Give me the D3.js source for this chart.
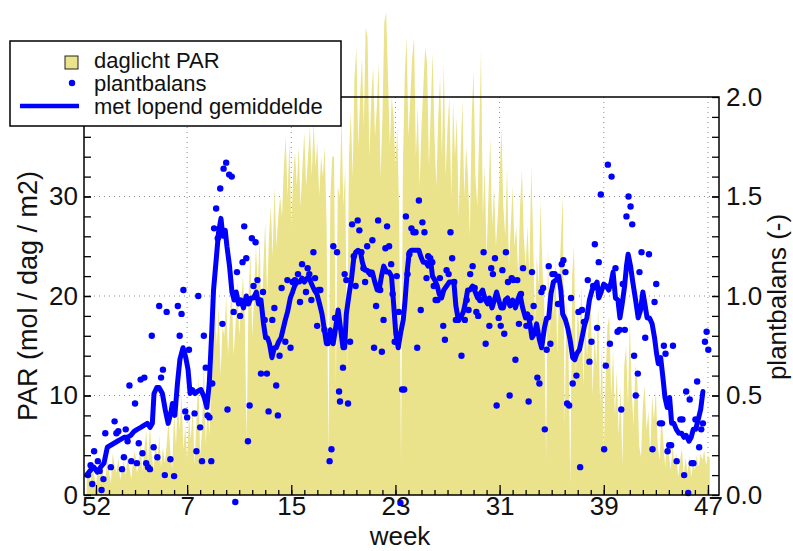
<!DOCTYPE html>
<html><head><meta charset="utf-8">
<script src="https://cdn.jsdelivr.net/npm/d3@7"></script>
<style>
body{margin:0;background:#fff}
svg{display:block}
text{font-family:"Liberation Sans",Arial,Helvetica,sans-serif;fill:#111}
</style>
</head><body>
<svg id="chart" width="793" height="551"></svg>
<script>
// ---------- data ----------
const weekTicks = [0, 7, 15, 23, 31, 39, 47];          // weeks after week 52
const weekLabels = ["52", "7", "15", "23", "31", "39", "47"];
const parTicks = [0, 10, 20, 30];
const balTicks = [0.0, 0.5, 1.0, 1.5, 2.0];
const legendLabels = ["daglicht PAR", "plantbalans", "met lopend gemiddelde"];
const axisTitles = {left: "PAR (mol / dag / m2)", right: "plantbalans (-)", bottom: "week"};

// daily PAR (mol/dag/m2), first value = day -5 relative to week 52
const parStartDay = -5;
const parDaily = [
  1.5,2.5,1.2,3.0,2.0,1.0,2.8,
  1.8,3.2,2.0,1.5,3.5,2.5,1.2,
  4.2,3.0,2.2,3.8,1.5,2.6,3.4,
  2.0,4.0,2.8,1.6,3.6,4.4,2.2,
  3.0,5.2,2.4,4.6,6.5,3.2,7.0,
  4.0,2.5,5.5,3.5,6.0,2.8,4.8,
  3.2,5.0,7.5,4.2,2.6,8.5,5.0,
  9.5,6.5,10.2,4.5,7.0,3.5,8.0,
  5.5,9.0,3.0,7.5,12.0,4.0,6.5,
  13.5,5.0,9.0,6.0,11.0,14.0,18.5,
  15.0,19.0,12.0,17.0,16.0,20.0,14.0,
  18.0,21.0,14.0,17.0,21.5,16.0,19.0,
  22.0,18.0,5.5,20.0,24.5,16.0,20.0,
  25.0,21.0,26.0,17.0,23.0,27.5,20.0,
  26.0,29.0,24.0,31.0,25.0,28.0,30.0,
  28.0,33.0,36.0,30.0,35.5,27.0,32.0,
  34.5,31.0,35.0,29.0,33.0,36.5,31.0,
  34.0,37.0,32.0,37.5,33.0,35.5,30.0,
  34.0,32.0,35.0,27.0,4.0,30.0,34.0,
  34.0,11.0,31.0,30.0,38.0,29.0,33.0,
  12.0,34.0,38.5,32.0,42.0,45.0,35.0,
  40.0,44.0,37.0,47.0,46.0,34.0,40.0,
  43.0,36.0,39.0,43.5,32.0,38.0,47.5,
  48.5,42.0,35.0,40.0,38.0,33.0,37.0,
  28.0,3.0,33.0,42.0,46.0,36.0,40.0,
  44.0,46.0,34.0,39.0,31.0,37.0,41.0,
  45.0,43.5,33.0,39.0,44.5,36.0,31.0,
  38.0,42.0,34.0,43.5,32.0,37.0,40.0,
  30.0,39.5,34.0,38.0,28.0,34.0,39.7,
  30.0,35.0,32.0,26.0,38.0,42.7,32.0,
  29.0,36.0,44.7,28.0,33.0,24.0,30.0,
  36.0,27.0,31.0,25.0,28.0,32.0,37.0,
  29.0,26.0,33.0,23.0,27.0,31.0,25.0,
  27.0,22.0,29.0,32.7,26.0,23.0,27.0,
  22.0,33.0,26.0,17.0,24.0,21.0,29.6,
  23.0,19.0,3.5,25.0,16.0,22.0,18.0,
  24.0,14.0,21.0,26.0,30.0,7.0,20.0,
  15.0,1.0,22.0,25.0,12.0,19.0,16.0,
  21.0,11.0,17.0,14.0,18.0,20.0,10.0,
  16.5,13.0,19.0,9.0,15.0,4.5,12.0,
  17.0,18.0,10.0,14.5,8.0,12.5,6.0,
  11.0,3.0,13.0,15.0,9.0,17.6,10.5,
  7.0,13.0,12.0,5.0,3.8,9.0,11.0,
  6.5,8.5,4.0,10.0,7.5,10.5,5.0,
  3.5,8.0,5.5,2.8,5.8,4.0,2.5,
  5.0,3.0,4.2,1.8,3.5,4.7,2.0,
  3.8,2.2,4.0,1.8,3.2,2.5,4.0,
  2.8,4.2,3.5,4.5,3.0,4.0,3.6
];

// plantbalans: [day relative to week 52, value (-)]
const plantbalans = [
  [-4.3,0.10],[-2.9,0.15],[-2.0,0.055],[-1.0,0.22],[1.0,0.17],[2.0,0.12],[3.0,0.025],[4.0,0.08],
  [5.0,0.31],[8.0,0.14],[10.0,0.37],[11.0,0.31],[12.0,0.32],[14.0,0.13],[15.0,0.19],[16.0,0.33],
  [17.0,0.27],[18.0,0.55],[19.0,0.17],[21.0,0.46],[22.0,0.16],[23.0,0.26],[24.0,0.58],[25.0,0.21],
  [26.0,0.59],[27.0,0.16],[28.0,0.14],[29.0,0.13],[30.0,0.80],[31.0,0.24],[33.0,0.19],[34.0,0.95],
  [35.0,0.59],[36.0,0.63],[37.0,0.10],[38.0,0.92],[40.0,0.18],[42.0,0.095],[44.0,0.95],[45.0,0.80],
  [46.0,0.91],[47.0,1.03],[48.0,0.42],[49.0,0.39],[50.0,0.73],[53.0,0.41],[54.0,0.22],[55.0,1.00],
  [56.0,0.34],[57.0,0.17],[58.0,0.80],[59.0,0.64],[60.0,0.40],[61.0,0.39],[62.0,0.17],[62.5,0.56],
  [63.5,1.34],[64.6,1.44],[65.5,1.29],[66.8,1.54],[68.0,0.86],[68.6,1.64],[70.0,1.67],[70.7,0.43],
  [71.6,1.61],[73.0,1.60],[74.0,0.92],[74.9,-0.035],[75.8,1.12],[77.5,0.90],[78.8,1.17],[79.7,1.35],
  [80.8,1.19],[81.7,0.27],[82.6,0.45],[83.8,1.29],[84.7,1.05],[85.8,1.27],[86.8,1.08],[88.7,0.61],
  [89.8,1.02],[90.7,0.88],[91.9,0.61],[92.8,0.42],[94.8,0.88],[95.9,0.94],[96.9,0.55],[97.8,0.40],
  [98.7,0.70],[99.8,1.04],[101.8,0.77],[102.9,1.08],[104.6,0.74],[105.7,1.07],[107.0,1.08],[108.6,1.11],
  [109.7,0.97],[110.8,1.16],[111.9,1.08],[112.9,1.02],[113.8,1.14],[114.7,1.11],[115.8,0.98],[116.9,1.22],
  [117.8,1.09],[118.9,0.85],[119.7,1.03],[120.6,1.03],[122.8,0.83],[125.6,0.17],[126.6,0.23],[127.6,1.25],
  [128.5,0.89],[129.6,1.22],[130.7,0.52],[131.2,0.47],[132.8,0.64],[133.7,1.11],[134.6,1.08],[135.5,0.46],
  [136.6,0.77],[137.7,1.36],[138.6,1.20],[139.6,1.05],[140.7,1.38],[141.6,1.33],[142.7,1.22],[143.8,1.14],
  [144.7,1.07],[145.8,1.25],[146.8,1.12],[147.7,1.11],[148.6,1.28],[149.5,0.74],[150.6,0.95],[151.7,1.38],
  [152.8,1.03],[153.7,0.72],[154.6,0.88],[155.6,1.24],[156.5,1.35],[157.6,1.25],[158.7,1.16],[159.5,1.01],
  [160.6,0.77],[161.7,1.10],[162.8,0.92],[163.7,-0.04],[164.6,0.53],[165.7,0.53],[166.6,1.40],[167.5,1.11],
  [168.5,1.21],[169.6,1.34],[170.7,1.32],[171.8,1.32],[172.7,0.74],[173.6,1.48],[174.6,0.93],[175.5,1.37],
  [176.6,1.32],[177.7,1.09],[178.6,1.20],[179.7,1.19],[180.8,1.17],[181.6,1.05],[182.6,0.98],[183.6,0.98],
  [184.9,1.09],[186.7,0.85],[187.6,0.78],[188.5,1.13],[189.6,1.11],[190.6,1.32],[191.5,1.19],[192.6,1.07],
  [193.5,0.88],[194.6,0.88],[196.5,0.70],[198.3,0.88],[199.3,0.98],[200.3,0.93],[201.2,1.11],[202.5,1.15],
  [203.6,1.04],[204.5,0.92],[205.5,0.90],[206.6,0.98],[208.4,1.22],[209.5,0.76],[210.6,0.98],[211.5,0.85],
  [212.5,1.14],[213.4,1.11],[214.5,1.19],[215.4,0.45],[216.5,0.89],[217.6,0.85],[218.5,1.13],[219.5,0.81],
  [220.4,1.22],[221.5,1.07],[222.4,0.50],[223.5,1.09],[224.4,1.08],[225.5,0.68],[226.5,1.08],[227.4,0.86],
  [228.5,1.01],[229.6,1.14],[231.4,0.85],[232.6,0.47],[233.5,0.89],[234.4,1.12],[235.3,0.95],[237.3,0.59],
  [238.4,0.56],[239.5,1.02],[240.4,1.04],[241.3,0.33],[242.3,0.73],[243.4,1.15],[244.3,0.76],[245.4,1.11],
  [246.5,1.11],[248.4,0.96],[250.4,1.16],[251.3,1.18],[252.4,1.12],[253.3,0.46],[254.4,0.45],[255.4,0.99],
  [256.3,0.56],[258.3,0.60],[259.4,0.92],[260.3,0.14],[261.3,0.93],[262.3,0.87],[264.4,1.08],[265.3,0.67],
  [266.4,0.77],[267.3,1.05],[268.2,1.26],[269.4,0.84],[270.3,1.17],[271.4,1.51],[273.2,0.23],[274.1,0.65],
  [275.2,1.66],[276.3,0.76],[277.2,1.60],[279.3,1.14],[280.4,0.82],[281.5,0.83],[282.4,0.43],[283.2,1.06],
  [284.3,0.83],[285.2,1.40],[286.3,1.50],[287.4,1.45],[288.3,1.36],[289.3,0.70],[290.2,0.50],[291.3,0.61],
  [292.2,1.12],[293.3,1.22],[295.3,0.79],[297.3,1.21],[299.2,0.23],[300.3,0.97],[301.2,1.06],[303.2,0.36],
  [304.3,0.36],[305.3,0.75],[306.2,0.71],[307.3,0.22],[308.2,0.25],[309.2,0.25],[310.2,0.75],[312.2,0.17],
  [314.2,0.38],[315.3,0.38],[316.2,0.10],[317.3,0.52],[318.4,0.01],[319.2,0.48],[320.3,0.16],[321.2,0.16],
  [322.3,0.38],[323.2,0.57],[324.3,0.24],[325.4,0.33],[326.3,0.36],[327.4,0.77],[328.3,0.82],[329.2,0.73]
];

// running mean of plantbalans: [day, value]
const lopendGemiddelde = [
  [-5.0,0.10],[-2.9,0.125],[-1.1,0.14],[0.7,0.115],[2.5,0.14],[4.3,0.16],[6.1,0.24],[7.9,0.25],
  [9.7,0.26],[11.5,0.27],[13.3,0.28],[15.1,0.29],[16.9,0.29],[18.7,0.30],[20.5,0.32],[22.2,0.33],
  [24.1,0.34],[25.8,0.35],[27.6,0.36],[29.1,0.34],[30.3,0.36],[31.2,0.51],[32.7,0.54],[33.9,0.54],
  [35.7,0.51],[37.2,0.43],[38.8,0.36],[40.2,0.41],[41.1,0.46],[42.4,0.40],[43.8,0.56],[45.1,0.68],
  [46.8,0.74],[48.3,0.69],[49.5,0.63],[50.6,0.51],[51.9,0.53],[53.2,0.51],[54.5,0.52],[56.4,0.53],
  [58.2,0.49],[59.6,0.44],[60.9,0.56],[62.1,0.79],[63.2,1.03],[64.6,1.18],[65.9,1.32],[67.2,1.39],
  [68.2,1.30],[69.5,1.33],[70.4,1.25],[71.8,1.15],[73.1,1.02],[74.3,0.98],[75.4,1.02],[76.6,0.96],
  [77.9,0.98],[79.3,0.94],[80.8,1.00],[82.0,0.96],[83.3,0.99],[84.7,0.99],[86.2,1.02],[87.4,0.96],
  [88.7,0.98],[90.1,0.86],[91.2,0.79],[92.2,0.79],[93.3,0.76],[94.6,0.69],[95.9,0.74],[96.9,0.74],
  [98.2,0.77],[99.5,0.79],[100.5,0.83],[101.8,0.88],[103.0,0.92],[104.5,0.99],[105.7,1.02],[106.8,1.05],
  [108.1,1.07],[109.5,1.07],[110.8,1.09],[112.0,1.07],[113.5,1.09],[114.7,1.09],[115.9,1.06],[117.4,1.03],
  [118.8,1.01],[120.2,0.96],[121.5,0.91],[122.8,0.83],[123.9,0.76],[124.8,0.76],[126.0,0.83],[127.5,0.76],
  [128.7,0.83],[130.2,0.93],[131.3,0.85],[132.8,0.74],[133.7,0.74],[134.6,0.91],[136.1,1.01],[137.3,1.08],
  [138.6,1.19],[139.6,1.22],[140.9,1.23],[142.2,1.22],[143.2,1.17],[144.5,1.13],[145.8,1.13],[147.2,1.12],
  [148.6,1.12],[149.9,1.07],[151.2,1.03],[152.2,1.03],[153.5,1.10],[154.7,1.15],[156.2,1.12],[157.6,1.12],
  [158.9,1.10],[160.1,0.95],[161.2,0.81],[162.5,0.74],[163.7,0.81],[165.2,0.88],[166.2,0.98],[167.3,1.12],
  [168.4,1.22],[169.6,1.23],[170.9,1.23],[172.3,1.23],[173.6,1.23],[174.6,1.20],[175.9,1.17],[177.3,1.17],
  [178.6,1.15],[179.9,1.18],[180.9,1.10],[182.2,1.08],[183.5,1.05],[184.5,1.01],[185.8,0.99],[187.0,1.03],
  [188.5,1.05],[189.9,1.07],[191.2,1.07],[192.4,1.07],[193.5,0.95],[194.8,0.88],[196.0,0.89],[197.5,0.92],
  [198.9,0.98],[199.8,1.03],[201.0,1.03],[202.5,1.05],[203.9,1.02],[205.2,0.99],[206.4,1.01],[207.9,1.03],
  [209.3,0.98],[210.6,0.96],[211.5,0.99],[212.9,0.94],[214.2,0.98],[215.4,1.02],[216.5,0.98],[217.7,0.94],
  [219.0,0.94],[220.1,0.98],[221.3,0.99],[222.6,0.95],[224.0,0.98],[225.5,0.94],[226.7,0.98],[227.9,1.01],
  [229.4,0.94],[230.9,0.89],[232.1,0.91],[233.3,0.86],[234.4,0.79],[235.7,0.81],[236.9,0.86],[238.4,0.78],
  [239.6,0.74],[241.1,0.84],[242.3,0.89],[243.4,0.89],[244.6,1.01],[245.9,1.07],[247.3,1.08],[248.8,1.10],
  [249.9,1.03],[250.9,0.91],[252.4,0.88],[253.6,0.84],[254.9,0.78],[256.3,0.69],[257.4,0.68],[258.5,0.71],
  [259.9,0.73],[261.3,0.79],[262.6,0.85],[263.9,0.89],[265.3,0.98],[266.7,1.03],[268.2,1.05],[269.4,1.07],
  [270.3,0.99],[271.6,1.02],[273.0,1.06],[274.3,1.05],[275.7,1.03],[277.0,1.07],[278.0,1.12],[279.3,0.99],
  [280.6,0.98],[281.7,0.89],[282.9,0.96],[284.2,1.05],[285.2,1.15],[286.1,1.21],[287.4,1.15],[288.6,1.07],
  [290.1,0.98],[291.5,0.89],[292.8,0.93],[294.0,1.02],[295.1,0.96],[296.3,0.89],[297.6,0.89],[299.0,0.86],
  [300.3,0.79],[301.4,0.71],[302.3,0.66],[303.6,0.69],[304.8,0.59],[305.9,0.49],[307.1,0.44],[308.4,0.49],
  [309.5,0.36],[310.7,0.36],[312.0,0.33],[313.4,0.31],[314.9,0.31],[316.1,0.29],[317.3,0.30],[318.8,0.27],
  [320.0,0.29],[321.1,0.33],[322.4,0.33],[323.8,0.38],[325.1,0.43],[326.3,0.52]
];

// ---------- drawing ----------
const yellow = "#ebe38b", blue = "#0000ff";
const svg = d3.select("#chart");
const x = d3.scaleLinear().domain([-0.92, 47.85]).range([84, 719]);   // weeks
const yL = d3.scaleLinear().domain([0, 40]).range([495, 97]);
const yR = d3.scaleLinear().domain([0, 2]).range([495, 97]);
const xd = d => x(d / 7);
const [x0, x1] = x.range(), [yb, yt] = yL.range();

// grid
const grid = svg.append("g").attr("stroke", "#8a8a8a").attr("stroke-width", 1).attr("stroke-dasharray", "1,4");
grid.selectAll("line.v").data(weekTicks.filter(w => w > 0)).join("line")
  .attr("x1", d => x(d)).attr("x2", d => x(d)).attr("y1", yt).attr("y2", yb);
grid.selectAll("line.h").data(parTicks.filter(v => v > 0)).join("line")
  .attr("y1", d => yL(d)).attr("y2", d => yL(d)).attr("x1", x0).attr("x2", x1);

// PAR area
const parData = parDaily.map((v, i) => [parStartDay + i, v]);
svg.append("path").datum(parData)
  .attr("fill", yellow)
  .attr("d", d3.area().x(d => xd(d[0])).y0(yL(0)).y1(d => yL(d[1])));

// running mean line
svg.append("path").datum(lopendGemiddelde)
  .attr("fill", "none").attr("stroke", blue).attr("stroke-width", 5)
  .attr("stroke-linejoin", "round").attr("stroke-linecap", "round")
  .attr("d", d3.line().x(d => xd(d[0])).y(d => yR(d[1])));

// dots
svg.append("g").selectAll("circle").data(plantbalans).join("circle")
  .attr("cx", d => xd(d[0])).attr("cy", d => yR(d[1])).attr("r", 3.2).attr("fill", blue);

// frame
svg.append("rect").attr("x", x0).attr("y", yt).attr("width", x1 - x0).attr("height", yb - yt)
  .attr("fill", "none").attr("stroke", "#000").attr("stroke-width", 1.5);

function styleAxis(g) {
  g.select(".domain").remove();
  g.selectAll(".tick line").attr("stroke", "#000").attr("stroke-width", 1.3);
  g.selectAll("text").attr("font-size", 26).attr("fill", "#111")
    .attr("font-family", '"Liberation Sans", Arial, sans-serif');
}

// bottom axis
svg.append("g").attr("transform", `translate(0,${yb})`)
  .call(d3.axisBottom(x).tickValues(d3.range(0, 48)).tickSizeInner(-5).tickSizeOuter(0).tickFormat(""))
  .call(styleAxis);
svg.append("g").attr("transform", `translate(0,${yb})`)
  .call(d3.axisBottom(x).tickValues(weekTicks).tickSizeInner(-10).tickSizeOuter(0).tickPadding(2)
    .tickFormat((d, i) => weekLabels[i]))
  .call(styleAxis);

// left axis
svg.append("g").attr("transform", `translate(${x0},0)`)
  .call(d3.axisLeft(yL).tickValues(d3.range(2, 40, 2)).tickSizeInner(-7).tickSizeOuter(0).tickFormat(""))
  .call(styleAxis);
svg.append("g").attr("transform", `translate(${x0},0)`)
  .call(d3.axisLeft(yL).tickValues(parTicks).tickSizeInner(-7).tickSizeOuter(0).tickPadding(6))
  .call(styleAxis);

// right axis
svg.append("g").attr("transform", `translate(${x1},0)`)
  .call(d3.axisRight(yR).tickValues(d3.range(1, 20).map(v => v / 10)).tickSizeInner(-7).tickSizeOuter(0).tickFormat(""))
  .call(styleAxis);
svg.append("g").attr("transform", `translate(${x1},0)`)
  .call(d3.axisRight(yR).tickValues(balTicks).tickSizeInner(-7).tickSizeOuter(0).tickPadding(7)
    .tickFormat(d3.format(".1f")))
  .call(styleAxis);

// axis titles
svg.append("text").attr("transform", "translate(37,296) rotate(-90)")
  .attr("text-anchor", "middle").attr("font-size", 27).text(axisTitles.left);
svg.append("text").attr("transform", "translate(786,297) rotate(-90)")
  .attr("text-anchor", "middle").attr("font-size", 26).text(axisTitles.right);
svg.append("text").attr("x", 400).attr("y", 545)
  .attr("text-anchor", "middle").attr("font-size", 26).text(axisTitles.bottom);

// legend
const lg = svg.append("g");
lg.append("rect").attr("x", 10).attr("y", 41).attr("width", 331).attr("height", 85)
  .attr("fill", "#fff").attr("stroke", "#000").attr("stroke-width", 1.5);
lg.append("rect").attr("x", 65).attr("y", 56).attr("width", 13).attr("height", 13)
  .attr("fill", yellow).attr("stroke", "#222").attr("stroke-width", 1);
lg.append("circle").attr("cx", 72).attr("cy", 83).attr("r", 3.2).attr("fill", blue);
lg.append("line").attr("x1", 20).attr("x2", 79).attr("y1", 106).attr("y2", 106)
  .attr("stroke", blue).attr("stroke-width", 4.5);
lg.selectAll("text").data(legendLabels).join("text")
  .attr("x", 94).attr("y", (d, i) => 68 + i * 23).attr("font-size", 22).text(d => d);
</script>
</body></html>
